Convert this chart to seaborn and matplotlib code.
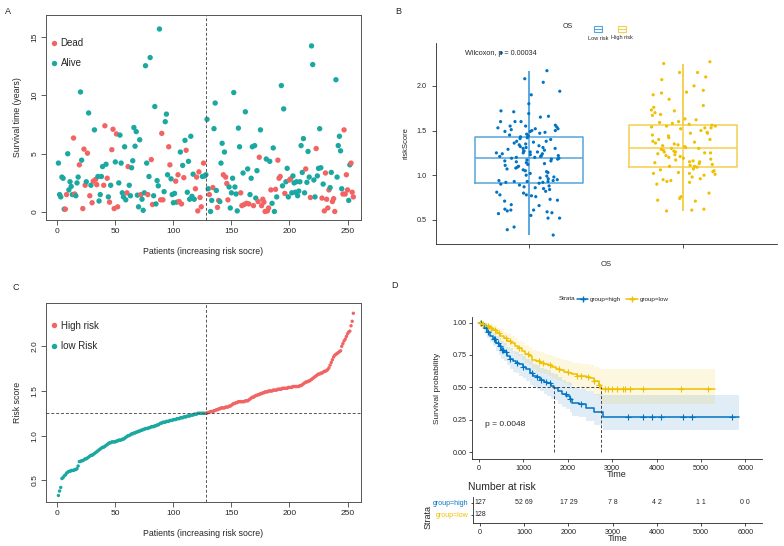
import numpy as np
import pandas as pd
import seaborn as sns
import matplotlib
matplotlib.use('Agg')
from matplotlib import pyplot as plt
from matplotlib.lines import Line2D
from matplotlib.patches import Rectangle

# ---------------- data ----------------
# panel A: survival time (years) per patient, ordered by increasing risk score
surv_years = [
    4.2, 1.5, 1.3, 3.0, 2.9, 0.25, 0.25, 1.5, 5.0, 1.9,
    2.6, 2.2, 1.5, 6.35, 1.55, 1.4, 2.5, 3.0, 4.05, 10.3,
    4.45, 0.3, 5.4, 2.3, 2.6, 5.05, 8.5, 1.4, 2.3, 0.8,
    2.65, 7.05, 2.8, 2.35, 3.05, 0.95, 1.5, 3.05, 3.9, 2.3,
    7.4, 4.1, 2.9, 1.3, 0.85, 2.3, 5.35, 7.1, 0.3, 4.3,
    6.7, 0.45, 2.5, 6.6, 4.2, 1.65, 1.3, 5.6, 1.05, 1.65,
    3.9, 2.3, 1.4, 3.8, 4.4, 7.25, 5.65, 6.9, 1.45, 0.45,
    6.2, 1.5, 1.1, 0.15, 1.65, 12.55, 4.2, 1.5, 3.05, 13.25,
    4.5, 0.65, 1.4, 9.05, 0.7, 2.7, 2.25, 15.7, 1.05, 6.75,
    1.05, 1.75, 7.75, 8.4, 3.2, 5.6, 4.05, 2.85, 1.5, 0.8,
    1.6, 2.65, 0.85, 3.2, 0.9, 5.15, 0.7, 4.0, 2.95, 6.15,
    5.3, 1.7, 4.35, 1.1, 6.5, 1.35, 3.25, 1.1, 2.0, 3.0,
    0.1, 3.45, 1.25, 0.45, 3.05, 4.2, 3.1, 3.2, 7.95, 2.0,
    1.5, 0.05, 1.0, 2.1, 7.15, 9.35, 1.85, 0.4, 1.0, 0.9,
    4.2, 5.9, 3.2, 5.15, 3.0, 2.45, 1.05, 2.15, 0.35, 1.65,
    2.9, 10.25, 2.15, 1.55, 0.1, 7.2, 5.6, 1.65, 0.55, 3.35,
    0.65, 8.6, 0.75, 3.7, 0.7, 1.5, 2.9, 5.6, 0.55, 5.7,
    1.2, 3.55, 0.9, 4.7, 7.05, 0.55, 1.1, 0.85, 0.05, 4.55,
    0.1, 0.35, 4.35, 1.9, 0.75, 5.5, 0.05, 1.95, 1.3, 4.45,
    2.9, 3.05, 10.85, 2.25, 8.85, 1.6, 2.6, 3.75, 1.3, 2.75,
    2.85, 1.65, 3.1, 2.5, 1.7, 2.6, 1.4, 1.8, 2.6, 5.7,
    3.4, 6.3, 1.65, 3.7, 2.55, 5.2, 3.0, 1.25, 14.25, 12.65,
    2.75, 1.3, 5.45, 3.1, 3.75, 7.15, 3.8, 1.2, 2.4, 0.1,
    3.35, 1.1, 0.35, 1.9, 2.1, 3.4, 0.9, 1.15, 0.05, 11.35,
    3.0, 5.7, 6.5, 5.25, 2.0, 1.55, 7.05, 1.55, 3.2, 1.9,
    1.0, 4.05, 4.2, 1.7, 1.3,
]
surv_status = list(
    'AAAAAADDAA' 'AAADDAAADA' 'ADDDADADAD' 'DADDAAAAAD' 'DADADADDDA'
    'DDAAAAAAAD' 'DAAAAAAAAA' 'ADAAAAADAA' 'DDAAAAAADD' 'DAAAADDAAA'
    'ADADDADADA' 'DAAAAAAADD' 'DDDDADAAAA' 'DAADAAADDA' 'AADADDDAAA'
    'AAAAAAADDA' 'DADADAAADA' 'AADDADDDDA' 'DDADAAADAD' 'DDAAADAAAD'
    'DAAAAAAAAA' 'AAADAAADAA' 'AADAAAADAD' 'DDDDAADDDA' 'AAAAADDDDD'
    'AADDD'
)

# panel C: sorted risk score
risk_score = [
    0.33, 0.38, 0.42, 0.52, 0.53, 0.55, 0.56, 0.58, 0.59, 0.60,
    0.60, 0.61, 0.61, 0.61, 0.62, 0.62, 0.63, 0.66, 0.71, 0.71,
    0.72, 0.72, 0.73, 0.74, 0.74, 0.75, 0.76, 0.77, 0.78, 0.78,
    0.79, 0.80, 0.81, 0.82, 0.83, 0.84, 0.85, 0.86, 0.87, 0.87,
    0.88, 0.89, 0.90, 0.91, 0.92, 0.92, 0.93, 0.93, 0.93, 0.93,
    0.94, 0.94, 0.95, 0.95, 0.95, 0.96, 0.96, 0.97, 0.98, 0.99,
    1.00, 1.00, 1.01, 1.02, 1.02, 1.03, 1.03, 1.04, 1.04, 1.05,
    1.05, 1.06, 1.06, 1.07, 1.07, 1.08, 1.08, 1.08, 1.09, 1.09,
    1.10, 1.10, 1.10, 1.11, 1.11, 1.12, 1.12, 1.13, 1.14, 1.14,
    1.15, 1.15, 1.15, 1.16, 1.16, 1.16, 1.17, 1.17, 1.17, 1.18,
    1.18, 1.18, 1.19, 1.19, 1.19, 1.20, 1.20, 1.20, 1.21, 1.21,
    1.21, 1.22, 1.22, 1.22, 1.23, 1.23, 1.23, 1.24, 1.24, 1.24,
    1.25, 1.25, 1.25, 1.25, 1.25, 1.25, 1.25, 1.25,
    1.25, 1.26, 1.26, 1.27, 1.27, 1.27, 1.28, 1.28, 1.29, 1.29,
    1.30, 1.30, 1.31, 1.31, 1.31, 1.31, 1.32, 1.32, 1.32, 1.33,
    1.33, 1.34, 1.35, 1.36, 1.36, 1.37, 1.37, 1.38, 1.38, 1.38,
    1.38, 1.38, 1.38, 1.39, 1.39, 1.39, 1.40, 1.41, 1.42, 1.43,
    1.43, 1.44, 1.45, 1.45, 1.46, 1.46, 1.47, 1.47, 1.48, 1.48,
    1.49, 1.49, 1.49, 1.50, 1.50, 1.50, 1.50, 1.51, 1.51, 1.51,
    1.51, 1.52, 1.52, 1.52, 1.52, 1.53, 1.53, 1.53, 1.53, 1.53,
    1.54, 1.54, 1.54, 1.54, 1.55, 1.55, 1.55, 1.55, 1.55, 1.55,
    1.56, 1.56, 1.57, 1.58, 1.59, 1.60, 1.60, 1.61, 1.61, 1.62,
    1.63, 1.64, 1.65, 1.66, 1.67, 1.68, 1.69, 1.69, 1.70, 1.70,
    1.71, 1.72, 1.72, 1.73, 1.74, 1.76, 1.79, 1.82, 1.85, 1.88,
    1.90, 1.91, 1.92, 1.93, 1.94, 1.95, 2.00, 2.03, 2.06, 2.08,
    2.11, 2.14, 2.16, 2.17, 2.23, 2.28, 2.37,
]
cut_patient = 128
cut_score = 1.25

# panel B: riskScore by OS group
low_scores = [
    2.37, 2.17, 2.08, 2.04, 1.94, 1.90, 1.80, 1.72, 1.71, 1.69, 1.65, 1.66,
    1.60, 1.60, 1.60, 1.56, 1.55, 1.55, 1.54, 1.53, 1.52, 1.52, 1.51, 1.50,
    1.50, 1.49, 1.49, 1.48, 1.47, 1.46, 1.45, 1.44, 1.43, 1.42, 1.41, 1.40,
    1.38, 1.38, 1.37, 1.36, 1.35, 1.34, 1.33, 1.32, 1.31, 1.31, 1.30, 1.30,
    1.29, 1.28, 1.27, 1.27, 1.26, 1.26, 1.25, 1.25, 1.24, 1.24, 1.23, 1.22,
    1.22, 1.21, 1.21, 1.20, 1.20, 1.19, 1.19, 1.18, 1.18, 1.17, 1.16, 1.16,
    1.15, 1.14, 1.13, 1.12, 1.11, 1.10, 1.09, 1.08, 1.07, 1.06, 1.05, 1.04,
    1.03, 1.02, 1.00, 0.99, 0.98, 0.97, 0.96, 0.95, 0.94, 0.94, 0.93, 0.93,
    0.93, 0.92, 0.92, 0.91, 0.90, 0.89, 0.88, 0.87, 0.86, 0.85, 0.84, 0.82,
    0.81, 0.80, 0.78, 0.78, 0.77, 0.76, 0.73, 0.72, 0.71, 0.67, 0.66, 0.62,
    0.61, 0.61, 0.60, 0.59, 0.58, 0.57, 0.55, 0.52, 0.52, 0.42, 0.39, 0.33,
]
high_scores = [
    2.27, 2.25, 2.15, 2.15, 2.10, 2.07, 2.00, 1.95, 1.93, 1.92, 1.90, 1.85,
    1.78, 1.76, 1.73, 1.72, 1.70, 1.68, 1.67, 1.63, 1.62, 1.60, 1.59, 1.58,
    1.57, 1.56, 1.55, 1.55, 1.54, 1.53, 1.53, 1.52, 1.50, 1.48, 1.47, 1.47,
    1.45, 1.44, 1.42, 1.40, 1.40, 1.38, 1.37, 1.36, 1.35, 1.34, 1.33, 1.32,
    1.31, 1.30, 1.30, 1.29, 1.28, 1.27, 1.26, 1.26, 1.25, 1.25, 1.24, 1.23,
    1.22, 1.21, 1.20, 1.19, 1.18, 1.17, 1.16, 1.15, 1.15, 1.14, 1.13, 1.12,
    1.11, 1.10, 1.10, 1.09, 1.07, 1.06, 1.05, 1.04, 1.03, 1.02, 1.02, 1.01,
    1.00, 0.98, 0.96, 0.95, 0.94, 0.93, 0.92, 0.90, 0.80, 0.76, 0.74, 0.72,
    0.71, 0.62, 0.61, 0.60,
]
box_groups = ['Low risk', 'High risk']

# panel D: Kaplan-Meier steps
high_time = [0, 60, 120, 180, 250, 320, 380, 440, 500, 560, 620, 690, 760, 830,
             900, 980, 1060, 1140, 1220, 1300, 1380, 1460, 1540, 1620, 1700,
             1790, 1880, 1960, 2040, 2100, 2250, 2400, 2600, 2800]
high_surv = [1.0, 0.98, 0.96, 0.93, 0.90, 0.87, 0.84, 0.82, 0.79, 0.77, 0.74,
             0.72, 0.70, 0.69, 0.68, 0.66, 0.64, 0.61, 0.59, 0.58, 0.56, 0.54,
             0.53, 0.51, 0.495, 0.47, 0.45, 0.43, 0.41, 0.38, 0.37, 0.34, 0.31,
             0.27]
high_upper = [1.0, 1.0, 0.99, 0.97, 0.95, 0.92, 0.90, 0.88, 0.86, 0.84, 0.81,
              0.80, 0.78, 0.77, 0.76, 0.74, 0.72, 0.70, 0.68, 0.67, 0.65, 0.64,
              0.63, 0.61, 0.60, 0.58, 0.56, 0.54, 0.53, 0.50, 0.49, 0.47, 0.45,
              0.44]
high_lower = [1.0, 0.95, 0.92, 0.88, 0.85, 0.82, 0.78, 0.75, 0.72, 0.70, 0.67,
              0.64, 0.62, 0.61, 0.59, 0.57, 0.55, 0.52, 0.50, 0.49, 0.47, 0.45,
              0.43, 0.41, 0.40, 0.37, 0.35, 0.33, 0.31, 0.28, 0.27, 0.24, 0.21,
              0.17]
high_end = 5850
high_censor = [40, 150, 200, 330, 350, 420, 480, 520, 540, 600, 700, 860, 1000,
               1200, 1300, 1400, 1500, 1600, 1950, 2050, 2300, 3350, 3700, 3900,
               4100, 4600, 4800, 5700]

low_time = [0, 80, 160, 240, 320, 400, 480, 560, 640, 720, 800, 880, 960, 1040,
            1120, 1200, 1290, 1380, 1470, 1560, 1650, 1740, 1830, 1920, 2010,
            2100, 2200, 2300, 2400, 2500, 2600, 2700, 2760]
low_surv = [1.0, 0.99, 0.97, 0.96, 0.94, 0.92, 0.90, 0.88, 0.86, 0.84, 0.82,
            0.80, 0.78, 0.76, 0.74, 0.71, 0.70, 0.69, 0.68, 0.67, 0.655, 0.64,
            0.63, 0.62, 0.61, 0.60, 0.59, 0.585, 0.58, 0.57, 0.55, 0.52, 0.49]
low_upper = [1.0, 1.0, 1.0, 0.99, 0.98, 0.96, 0.95, 0.93, 0.92, 0.90, 0.88,
             0.86, 0.85, 0.83, 0.81, 0.79, 0.78, 0.77, 0.76, 0.75, 0.74, 0.73,
             0.72, 0.71, 0.70, 0.69, 0.69, 0.68, 0.68, 0.67, 0.66, 0.65, 0.64]
low_lower = [1.0, 0.97, 0.94, 0.92, 0.90, 0.88, 0.85, 0.83, 0.80, 0.78, 0.76,
             0.74, 0.71, 0.69, 0.67, 0.64, 0.62, 0.61, 0.60, 0.59, 0.57, 0.56,
             0.55, 0.53, 0.52, 0.51, 0.50, 0.49, 0.48, 0.47, 0.44, 0.41, 0.37]
low_end = 5320
low_censor = [30, 100, 200, 280, 350, 450, 600, 700, 900, 1100, 1350, 1450, 1600,
              1800, 2000, 2200, 2300, 2450, 2600, 2700, 2850, 2900, 3000, 3100,
              3250, 3300, 3400, 3700, 4550, 5150]

risk_ticks = [0, 1000, 2000, 3000, 4000, 5000, 6000]
risk_high = ['127', '52 69', '17 29', '7 8', '4 2', '1 1', '0 0']
risk_low = ['128']

# ---------------- style ----------------
sns.set_style('white')
plt.rcParams['font.family'] = ['Liberation Sans', 'DejaVu Sans']
plt.rcParams['axes.linewidth'] = 0.6

RED = '#F26464'
TEAL = '#1AA8A0'
BLUE = '#0073C2'
YELLOW = '#EFC000'
BOX_COLORS = ['#55A5DE', '#F3CF4E']
W, H = 784, 546


def box(l, t, r, b):
    return [l / W, 1 - b / H, (r - l) / W, (b - t) / H]


def r_style(ax):
    for s in ax.spines.values():
        s.set_visible(True)
        s.set_color('#555555')
        s.set_linewidth(0.7)
    ax.tick_params(length=3.5, width=0.6, color='#444444', labelsize=6, pad=2,
                   direction='out', bottom=True, left=True)
    for lab in ax.get_yticklabels():
        lab.set_rotation(90)
        lab.set_va('center')


fig = plt.figure(figsize=(W / 100, H / 100), dpi=100)

# ---------------- panel A ----------------
df_a = pd.DataFrame({
    'patient': np.arange(1, len(surv_years) + 1),
    'time': surv_years,
    'status': ['Dead' if s == 'D' else 'Alive' for s in surv_status],
})
ax_a = fig.add_axes(box(46, 15, 361, 220))
sns.scatterplot(data=df_a, x='patient', y='time', hue='status',
                hue_order=['Dead', 'Alive'], palette=[RED, TEAL], s=15,
                linewidth=0, ax=ax_a)
ax_a.axvline(cut_patient, ls=(0, (3, 2)), color='#555555', lw=0.7)
ax_a.set_xlim(-9.7, 261.6)
ax_a.set_ylim(-0.68, 16.9)
ax_a.set_xticks([0, 50, 100, 150, 200, 250])
ax_a.set_yticks([0, 5, 10, 15])
ax_a.set_xlabel('Patients (increasing risk socre)', fontsize=6.3, labelpad=9)
ax_a.set_ylabel('Survival time (years)', fontsize=6.3, labelpad=7)
r_style(ax_a)
ax_a.legend(loc='upper left', bbox_to_anchor=(0.0, 0.907), borderaxespad=0,
            frameon=False, fontsize=7, handlelength=0.8, handletextpad=0.3,
            labelspacing=1.05, markerscale=1.0)

# ---------------- panel C ----------------
df_c = pd.DataFrame({
    'patient': np.arange(1, len(risk_score) + 1),
    'score': risk_score,
})
df_c['group'] = np.where(df_c['patient'] > cut_patient, 'High risk', 'low Risk')
ax_c = fig.add_axes(box(46, 303, 361, 502))
sns.scatterplot(data=df_c, x='patient', y='score', hue='group',
                hue_order=['High risk', 'low Risk'], palette=[RED, TEAL], s=6,
                linewidth=0, ax=ax_c)
ax_c.axvline(cut_patient, ls=(0, (3, 2)), color='#555555', lw=0.7)
ax_c.axhline(cut_score, ls=(0, (3, 2)), color='#555555', lw=0.7)
ax_c.set_xlim(-9.7, 261.6)
ax_c.set_ylim(0.257, 2.485)
ax_c.set_xticks([0, 50, 100, 150, 200, 250])
ax_c.set_yticks([0.5, 1.0, 1.5, 2.0])
ax_c.set_xlabel('Patients (increasing risk socre)', fontsize=6.3, labelpad=9)
ax_c.set_ylabel('Risk score', fontsize=6.3, labelpad=7)
r_style(ax_c)
ax_c.legend(loc='upper left', bbox_to_anchor=(0.0, 0.93), borderaxespad=0,
            frameon=False, fontsize=7, handlelength=0.8, handletextpad=0.3,
            labelspacing=1.05, markerscale=1.6)

# ---------------- panel B ----------------
df_b = pd.DataFrame({
    'OS': ['Low risk'] * len(low_scores) + ['High risk'] * len(high_scores),
    'riskScore': low_scores + high_scores,
})
ax_b = fig.add_axes(box(436, 43, 777, 244))
sns.boxplot(data=df_b, x='OS', y='riskScore', hue='OS', order=box_groups,
            hue_order=box_groups, palette=BOX_COLORS, fill=False, width=0.7,
            showfliers=False, showcaps=False, linewidth=1.1, legend=False,
            ax=ax_b)
for i, g in enumerate(box_groups):
    v = df_b.loc[df_b['OS'] == g, 'riskScore'].to_numpy()
    q1, q3 = np.percentile(v, [25, 75])
    iqr = q3 - q1
    lo = v[v >= q1 - 1.5 * iqr].min()
    hi = v[v <= q3 + 1.5 * iqr].max()
    ax_b.vlines(i, lo, hi, color=BOX_COLORS[i], lw=1.1, zorder=1)
np.random.seed(7)
sns.stripplot(data=df_b, x='OS', y='riskScore', hue='OS', order=box_groups,
              hue_order=box_groups, palette=[BLUE, YELLOW], jitter=0.21,
              size=2.3, linewidth=0, legend=False, ax=ax_b)
ax_b.set_xlim(-0.6, 1.606)
ax_b.set_ylim(0.23, 2.48)
ax_b.set_yticks([0.5, 1.0, 1.5, 2.0], labels=['0.5', '1.0', '1.5', '2.0'])
ax_b.set_xticks([0, 1], labels=['', ''])
ax_b.tick_params(length=3, width=0.6, labelsize=5.2, color='#333333',
                 bottom=True, left=True)
sns.despine(ax=ax_b)
ax_b.set_xlabel('OS', fontsize=5.5, labelpad=6)
ax_b.set_ylabel('riskScore', fontsize=5.5, labelpad=5)
ax_b.text(-0.41, 2.36, 'Wilcoxon, p = 0.00034', fontsize=5.2, va='center')

# B legend (drawn above the panel)
fig.text(568 / W, 1 - 27 / H, 'OS', fontsize=5, ha='center', va='center')
for cx, col, lab in [(598, BOX_COLORS[0], 'Low risk'), (622, BOX_COLORS[1], 'High risk')]:
    fig.add_artist(Rectangle(((cx - 4) / W, 1 - 32 / H), 8 / W, 6 / H,
                             transform=fig.transFigure, fill=False,
                             edgecolor=col, lw=0.8))
    fig.add_artist(Line2D([(cx - 4) / W, (cx + 4) / W], [1 - 29 / H] * 2,
                          transform=fig.transFigure, color=col, lw=0.8))
    fig.text(cx / W, 1 - 38 / H, lab, fontsize=4, ha='center', va='center')

# ---------------- panel D ----------------
ax_d = fig.add_axes(box(472, 317, 762, 459))
curves = [
    ('group=high', high_time, high_surv, high_lower, high_upper, high_end, high_censor, BLUE),
    ('group=low', low_time, low_surv, low_lower, low_upper, low_end, low_censor, YELLOW),
]
medians = []
for name, t, s, lo, up, end, cens, col in curves:
    tt = np.array(t + [end])
    ss = np.array(s + [s[-1]])
    ax_d.fill_between(tt, lo + [lo[-1]], up + [up[-1]], step='post',
                      color=col, alpha=0.12, lw=0)
    sns.lineplot(x=tt, y=ss, drawstyle='steps-post', estimator=None, sort=False,
                 color=col, lw=1.1, ax=ax_d)
    idx = np.searchsorted(t, cens, side='right') - 1
    ax_d.scatter(cens, np.array(s)[idx], marker='+', s=22, color=col, lw=0.8,
                 zorder=3)
    medians.append(t[int(np.argmax(np.array(s) <= 0.5))])
ax_d.hlines(0.5, 0, max(medians), color='#444444', ls=(0, (3, 2)), lw=0.7)
for m in medians:
    ax_d.vlines(m, 0, 0.5, color='#444444', ls=(0, (3, 2)), lw=0.7)
ax_d.text(130, 0.21, 'p = 0.0048', fontsize=6, va='center')
ax_d.set_xlim(-158, 6377)
ax_d.set_ylim(-0.054, 1.043)
ax_d.set_xticks(risk_ticks)
ax_d.set_yticks([0, 0.25, 0.5, 0.75, 1.0],
                labels=['0.00', '0.25', '0.50', '0.75', '1.00'])
ax_d.tick_params(length=2.5, width=0.6, labelsize=5.2, pad=1.5, color='#333333',
                 bottom=True, left=True)
sns.despine(ax=ax_d)
ax_d.set_xlabel('Time', fontsize=6.5, labelpad=-1)
ax_d.set_ylabel('Survival probability', fontsize=6, labelpad=8)

fig.text(566.7 / W, 1 - 299 / H, 'Strata', fontsize=4.5, ha='center', va='center')
handles = [Line2D([], [], color=BLUE, marker='+', lw=1.1, ms=4),
           Line2D([], [], color=YELLOW, marker='+', lw=1.1, ms=4)]
fig.legend(handles, ['group=high', 'group=low'], loc='center left',
           bbox_to_anchor=(577 / W, 1 - 299 / H), ncol=2, frameon=False,
           fontsize=4.5, handlelength=1.8, handletextpad=0.3, columnspacing=0.8,
           borderaxespad=0, borderpad=0)

# risk table
ax_t = fig.add_axes(box(473, 497, 762, 523))
for x, lab in zip(risk_ticks, risk_high):
    ax_t.text(x, 1, lab, fontsize=5, ha='center', va='center')
for x, lab in zip(risk_ticks, risk_low):
    ax_t.text(x, 0, lab, fontsize=5, ha='center', va='center')
ax_t.set_xlim(-158, 6377)
ax_t.set_ylim(-0.67, 1.5)
ax_t.set_xticks(risk_ticks)
ax_t.set_yticks([1, 0], labels=['group=high', 'group=low'])
for lab, col in zip(ax_t.get_yticklabels(), [BLUE, YELLOW]):
    lab.set_color(col)
ax_t.tick_params(axis='y', length=1.5, width=0.6, labelsize=5, pad=2, left=True)
ax_t.tick_params(axis='x', length=2.5, width=0.6, labelsize=5.2, pad=1.5,
                 bottom=True)
sns.despine(ax=ax_t)
ax_t.set_xlabel('Time', fontsize=6.5, labelpad=-1)
fig.text(468 / W, 1 - 487 / H, 'Number at risk', fontsize=7.5, ha='left',
         va='center')
fig.text(428 / W, 1 - 517 / H, 'Strata', fontsize=6.5, rotation=90,
         ha='center', va='center')

# panel letters
for lab, x, y in [('A', 8, 11), ('B', 398, 12), ('C', 16, 288), ('D', 394, 286)]:
    fig.text(x / W, 1 - y / H, lab, fontsize=6.5, ha='center', va='center')

fig.savefig('out.png', dpi=100)
